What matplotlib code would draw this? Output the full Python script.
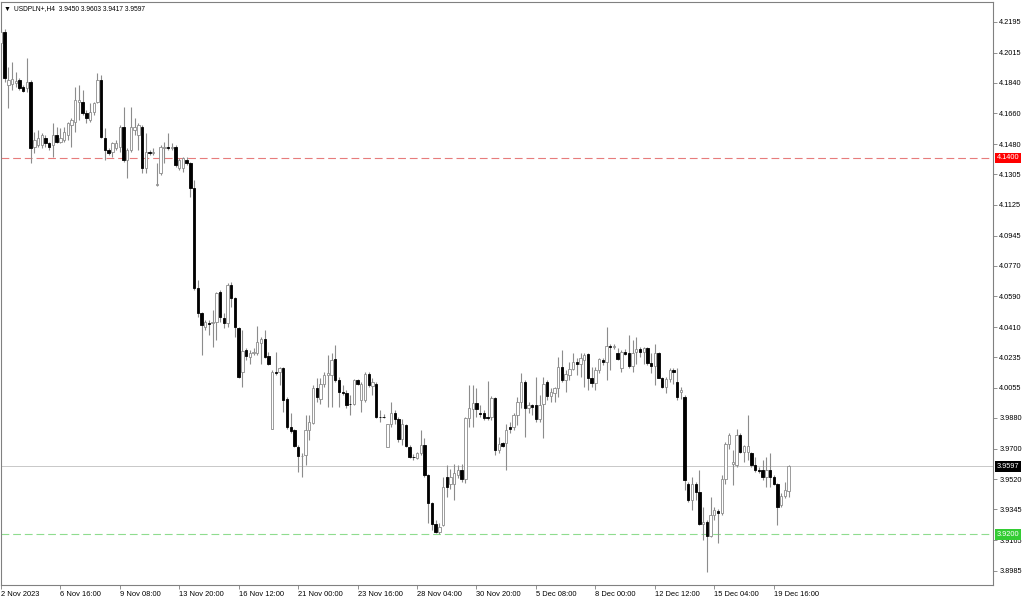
import matplotlib
matplotlib.use("Agg")
import matplotlib.pyplot as plt
from matplotlib.transforms import blended_transform_factory

plt.rcParams['font.family'] = ['Liberation Sans', 'DejaVu Sans']

# --- 1. H4 bars, USDPLN+ ---
opens = [
    4.2070, 4.2138, 4.1827, 4.1832, 4.1836, 4.1856, 4.1817, 4.1807, 4.1846, 4.1466,
    4.1475, 4.1475, 4.1515, 4.1485, 4.1475, 4.1534, 4.1495, 4.1505, 4.1534, 4.1592,
    4.1612, 4.1729, 4.1729, 4.1661, 4.1622, 4.1670, 4.1729, 4.1856, 4.1515, 4.1446,
    4.1436, 4.1456, 4.1466, 4.1582, 4.1388, 4.1446, 4.1563, 4.1534, 4.1582, 4.1339,
    4.1436, 4.1427, 4.1242, 4.1310, 4.1456, 4.1466, 4.1456, 4.1466, 4.1339, 4.1339,
    4.1388, 4.1368, 4.1222, 4.0637, 4.0491, 4.0413, 4.0437, 4.0432, 4.0442, 4.0618,
    4.0466, 4.0437, 4.0657, 4.0579, 4.0403, 4.0146, 4.0276, 4.0237, 4.0257, 4.0257,
    4.0319, 4.0339, 4.0241, 3.9818, 4.0149, 4.0149, 4.0169, 3.9988, 3.9829, 3.9810,
    3.9711, 3.9656, 3.9662, 3.9808, 3.9851, 4.0056, 3.9993, 4.0081, 4.0128, 4.0128,
    4.0225, 4.0099, 4.0029, 4.0023, 3.9964, 3.9960, 4.0099, 3.9984, 3.9984, 4.0134,
    4.0067, 4.0079, 3.9888, 3.9888, 3.9707, 3.9842, 3.9909, 3.9876, 3.9754, 3.9836,
    3.9711, 3.9652, 3.9643, 3.9672, 3.9721, 3.9545, 3.9383, 3.9262, 3.9213, 3.9252,
    3.9535, 3.9496, 3.9496, 3.9545, 3.9574, 3.9525, 3.9882, 3.9931, 3.9968, 3.9907,
    3.9907, 3.9888, 3.9886, 3.9995, 3.9691, 3.9734, 3.9734, 3.9824, 3.9824, 3.9896,
    3.9974, 4.0091, 3.9935, 3.9954, 3.9954, 3.9871, 3.9964, 4.0091, 4.0007, 4.0026,
    4.0052, 4.0179, 4.0101, 4.0132, 4.0165, 4.0204, 4.0194, 4.0220, 4.0252, 4.0111,
    4.0085, 4.0159, 4.0216, 4.0204, 4.0300, 4.0296, 4.0257, 4.0169, 4.0266, 4.0257,
    4.0183, 4.0266, 4.0280, 4.0266, 4.0286, 4.0202, 4.0183, 4.0261, 4.0116, 4.0062,
    4.0110, 4.0159, 4.0091, 4.0032, 4.0003, 3.9496, 3.9399, 3.9496, 3.9447, 3.9258,
    3.9272, 3.9188, 3.9311, 3.9336, 3.9326, 3.9520, 3.9726, 3.9613, 3.9604, 3.9779,
    3.9681, 3.9681, 3.9676, 3.9603, 3.9574, 3.9574, 3.9535, 3.9574, 3.9535, 3.9492,
    3.9370, 3.9423, 3.9450,
]
highs = [
    4.2152, 4.2152, 4.1934, 4.1963, 4.1904, 4.1866, 4.1827, 4.1983, 4.1856, 4.1553,
    4.1563, 4.1546, 4.1534, 4.1495, 4.1602, 4.1582, 4.1573, 4.1582, 4.1612, 4.1632,
    4.1817, 4.1827, 4.1797, 4.1680, 4.1719, 4.1729, 4.1895, 4.1885, 4.1573, 4.1456,
    4.1495, 4.1505, 4.1592, 4.1700, 4.1456, 4.1700, 4.1632, 4.1604, 4.1592, 4.1544,
    4.1446, 4.1456, 4.1370, 4.1475, 4.1495, 4.1544, 4.1485, 4.1475, 4.1397, 4.1407,
    4.1407, 4.1378, 4.1271, 4.0686, 4.0501, 4.0452, 4.0452, 4.0510, 4.0618, 4.0627,
    4.0491, 4.0666, 4.0676, 4.0588, 4.0413, 4.0393, 4.0286, 4.0276, 4.0288, 4.0417,
    4.0354, 4.0393, 4.0266, 4.0159, 4.0266, 4.0179, 4.0179, 4.0003, 3.9906, 3.9818,
    3.9720, 3.9672, 3.9896, 3.9896, 4.0075, 4.0111, 4.0111, 4.0149, 4.0247, 4.0257,
    4.0306, 4.0120, 4.0071, 4.0042, 4.0013, 4.0108, 4.0108, 4.0089, 4.0149, 4.0149,
    4.0111, 4.0091, 3.9925, 3.9902, 3.9847, 3.9974, 3.9925, 3.9886, 3.9871, 3.9847,
    3.9721, 3.9668, 3.9681, 3.9812, 3.9760, 3.9551, 3.9389, 3.9282, 3.9266, 3.9535,
    3.9603, 3.9584, 3.9613, 3.9603, 3.9613, 3.9886, 4.0071, 4.0071, 4.0052, 3.9955,
    3.9925, 4.0097, 4.0007, 4.0003, 3.9769, 3.9740, 3.9847, 3.9857, 3.9906, 4.0003,
    4.0140, 4.0101, 3.9974, 3.9964, 4.0120, 4.0013, 4.0120, 4.0101, 4.0052, 4.0062,
    4.0237, 4.0276, 4.0159, 4.0208, 4.0257, 4.0228, 4.0257, 4.0257, 4.0257, 4.0179,
    4.0179, 4.0228, 4.0228, 4.0409, 4.0315, 4.0311, 4.0286, 4.0276, 4.0280, 4.0364,
    4.0335, 4.0354, 4.0296, 4.0296, 4.0296, 4.0257, 4.0315, 4.0266, 4.0120, 4.0120,
    4.0169, 4.0169, 4.0169, 4.0062, 4.0013, 3.9506, 3.9535, 3.9506, 3.9574, 3.9360,
    3.9282, 3.9418, 3.9360, 3.9350, 3.9545, 3.9740, 3.9789, 3.9691, 3.9818, 3.9789,
    3.9721, 3.9896, 3.9681, 3.9652, 3.9594, 3.9633, 3.9652, 3.9672, 3.9545, 3.9500,
    3.9438, 3.9506, 3.9603,
]
lows = [
    4.2014, 4.1846, 4.1690, 4.1797, 4.1817, 4.1797, 4.1787, 4.1787, 4.1370, 4.1427,
    4.1466, 4.1456, 4.1466, 4.1446, 4.1407, 4.1485, 4.1485, 4.1495, 4.1505, 4.1466,
    4.1553, 4.1622, 4.1651, 4.1602, 4.1612, 4.1651, 4.1719, 4.1515, 4.1388, 4.1417,
    4.1407, 4.1446, 4.1436, 4.1378, 4.1281, 4.1436, 4.1534, 4.1446, 4.1310, 4.1310,
    4.1417, 4.1417, 4.1236, 4.1300, 4.1368, 4.1446, 4.1446, 4.1349, 4.1329, 4.1319,
    4.1358, 4.1171, 4.0627, 4.0471, 4.0247, 4.0393, 4.0364, 4.0296, 4.0335, 4.0442,
    4.0405, 4.0413, 4.0530, 4.0354, 4.0116, 4.0062, 4.0218, 4.0198, 4.0247, 4.0247,
    4.0198, 4.0229, 4.0189, 3.9818, 4.0130, 4.0071, 3.9915, 3.9818, 3.9789, 3.9711,
    3.9564, 3.9535, 3.9603, 3.9750, 3.9845, 3.9973, 3.9964, 4.0062, 3.9945, 3.9945,
    4.0089, 3.9945, 4.0013, 3.9935, 3.9896, 3.9955, 4.0070, 3.9915, 3.9974, 4.0061,
    4.0013, 3.9877, 3.9857, 3.9882, 3.9707, 3.9828, 3.9847, 3.9740, 3.9721, 3.9711,
    3.9643, 3.9633, 3.9637, 3.9662, 3.9535, 3.9266, 3.9223, 3.9207, 3.9204, 3.9247,
    3.9418, 3.9467, 3.9399, 3.9526, 3.9506, 3.9500, 3.9828, 3.9828, 3.9886, 3.9886,
    3.9867, 3.9867, 3.9867, 3.9662, 3.9672, 3.9711, 3.9574, 3.9789, 3.9808, 3.9837,
    3.9935, 3.9769, 3.9906, 3.9896, 3.9857, 3.9857, 3.9765, 3.9984, 3.9974, 3.9974,
    4.0003, 4.0091, 4.0032, 4.0101, 4.0159, 4.0130, 4.0120, 4.0062, 4.0042, 4.0062,
    4.0042, 4.0140, 4.0189, 4.0101, 4.0159, 4.0280, 4.0218, 4.0149, 4.0247, 4.0169,
    4.0149, 4.0198, 4.0237, 4.0198, 4.0189, 4.0140, 4.0071, 4.0111, 4.0052, 4.0023,
    4.0091, 4.0081, 3.9984, 3.9993, 3.9457, 3.9389, 3.9340, 3.9399, 3.9253, 3.9165,
    3.8979, 3.9184, 3.9282, 3.9146, 3.9311, 3.9496, 3.9701, 3.9486, 3.9594, 3.9672,
    3.9623, 3.9633, 3.9594, 3.9564, 3.9559, 3.9516, 3.9477, 3.9477, 3.9486, 3.9253,
    3.9360, 3.9409, 3.9417,
]
closes = [
    4.2138, 4.1866, 4.1856, 4.1861, 4.1851, 4.1807, 4.1790, 4.1846, 4.1456, 4.1505,
    4.1515, 4.1534, 4.1485, 4.1466, 4.1534, 4.1495, 4.1515, 4.1553, 4.1602, 4.1622,
    4.1739, 4.1739, 4.1661, 4.1632, 4.1670, 4.1719, 4.1856, 4.1524, 4.1446, 4.1427,
    4.1489, 4.1489, 4.1582, 4.1388, 4.1446, 4.1582, 4.1582, 4.1592, 4.1339, 4.1436,
    4.1427, 4.1436, 4.1246, 4.1466, 4.1466, 4.1456, 4.1466, 4.1358, 4.1388, 4.1397,
    4.1368, 4.1222, 4.0637, 4.0491, 4.0422, 4.0442, 4.0430, 4.0442, 4.0613, 4.0472,
    4.0437, 4.0657, 4.0579, 4.0413, 4.0120, 4.0272, 4.0241, 4.0257, 4.0266, 4.0325,
    4.0339, 4.0237, 4.0198, 4.0149, 4.0140, 4.0169, 3.9984, 3.9829, 3.9806, 3.9718,
    3.9656, 3.9659, 3.9808, 3.9857, 4.0056, 4.0003, 4.0081, 4.0128, 4.0140, 4.0216,
    4.0099, 4.0032, 4.0023, 3.9955, 3.9960, 4.0099, 4.0079, 4.0079, 4.0134, 4.0071,
    4.0091, 3.9888, 3.9884, 3.9884, 3.9842, 3.9909, 3.9876, 3.9754, 3.9842, 3.9713,
    3.9652, 3.9649, 3.9672, 3.9721, 3.9545, 3.9383, 3.9262, 3.9213, 3.9242, 3.9477,
    3.9477, 3.9535, 3.9557, 3.9574, 3.9525, 3.9882, 3.9935, 3.9968, 3.9931, 3.9903,
    3.9878, 3.9882, 3.9995, 3.9691, 3.9726, 3.9714, 3.9812, 3.9818, 3.9896, 3.9974,
    4.0091, 3.9935, 3.9954, 3.9945, 3.9871, 3.9954, 4.0081, 4.0007, 4.0032, 4.0052,
    4.0179, 4.0101, 4.0136, 4.0165, 4.0204, 4.0194, 4.0228, 4.0245, 4.0111, 4.0085,
    4.0159, 4.0222, 4.0204, 4.0300, 4.0292, 4.0300, 4.0222, 4.0266, 4.0254, 4.0183,
    4.0261, 4.0280, 4.0266, 4.0286, 4.0202, 4.0183, 4.0261, 4.0116, 4.0062, 4.0110,
    4.0159, 4.0150, 4.0003, 4.0042, 3.9516, 3.9399, 3.9496, 3.9447, 3.9258, 3.9272,
    3.9188, 3.9311, 3.9340, 3.9326, 3.9520, 3.9726, 3.9782, 3.9623, 3.9779, 3.9681,
    3.9714, 3.9714, 3.9603, 3.9574, 3.9570, 3.9535, 3.9574, 3.9535, 3.9492, 3.9360,
    3.9423, 3.9457, 3.9597,
]

# time axis: one label every 16 bars
date_labels = ['2 Nov 2023', '6 Nov 16:00', '9 Nov 08:00', '13 Nov 20:00', '16 Nov 12:00',
               '21 Nov 00:00', '23 Nov 16:00', '28 Nov 04:00', '30 Nov 20:00', '5 Dec 08:00',
               '8 Dec 00:00', '12 Dec 12:00', '15 Dec 04:00', '19 Dec 16:00']
bars_per_label = 16

# price scale labels
price_ticks = [4.2195, 4.2015, 4.1840, 4.1660, 4.1480, 4.1305, 4.1125, 4.0945, 4.0770, 4.0590,
               4.0410, 4.0235, 4.0055, 3.9880, 3.9700, 3.9520, 3.9345, 3.9165, 3.8985]

# horizontal levels
level_high = 4.1400
level_low = 3.9200
bid_price = 3.9597

symbol_text = 'USDPLN+,H4  3.9450 3.9603 3.9417 3.9597'

# --- 2. figure ---
fig = plt.figure(figsize=(10.24, 5.99), dpi=100)
ax = fig.add_axes([0.0005, 0.0234, 0.9692, 0.9733])

wick_col = '#8c8c8c'
for i, (o, h, l, c) in enumerate(zip(opens, highs, lows, closes)):
    ax.vlines(i, l, h, color=wick_col, lw=0.8, zorder=2)
    body = max(abs(c - o), 0.0004)
    bottom = min(o, c)
    if c >= o:
        ax.bar(i, body, bottom=bottom, width=0.64, facecolor='white',
               edgecolor=wick_col, lw=0.6, zorder=3)
    else:
        ax.bar(i, body, bottom=bottom, width=0.64, facecolor='black',
               edgecolor='black', lw=0.6, zorder=3)

# levels
ax.axhline(level_high, color='#e77c7c', lw=0.8, dashes=(7, 3.5), zorder=1)
ax.axhline(level_low, color='#8fdc8f', lw=0.8, dashes=(7, 3.5), zorder=1)
ax.axhline(bid_price, color='#c8c8c8', lw=0.7, zorder=1)

ax.set_xlim(-0.1, 267.0)
ax.set_ylim(3.8903, 4.2312)

# axes look
for s in ax.spines.values():
    s.set_color('#808080')
    s.set_linewidth(0.8)

ax.yaxis.tick_right()
ax.set_yticks(price_ticks)
ax.set_yticklabels([f'{p:.4f}' for p in price_ticks])
ax.tick_params(axis='y', length=3, width=0.6, color='#808080', labelsize=5.3, pad=1.5)

xt = list(range(0, len(date_labels) * bars_per_label, bars_per_label))
ax.set_xticks(xt)
ax.set_xticklabels(date_labels, ha='left')
ax.tick_params(axis='x', length=3, width=0.6, color='#808080', labelsize=5.4, pad=1.5)

# price boxes on the right scale
tr = blended_transform_factory(ax.transAxes, ax.transData)
for val, bg in [(level_high, '#ff0000'), (bid_price, '#000000'), (level_low, '#33cc33')]:
    ax.text(1.0035, val, f'{val:.4f}', transform=tr, ha='left', va='center',
            fontsize=5.3, color='white', zorder=10, clip_on=False,
            bbox=dict(boxstyle='square,pad=0.25', fc=bg, ec='none'))

# symbol header
fig.text(4 / 1024, 1 - 9 / 599, '\u25bc', fontsize=5, va='center', ha='left')
fig.text(14 / 1024, 1 - 9 / 599, symbol_text, fontsize=4.8, va='center', ha='left')

fig.savefig('out.png', dpi=100, facecolor='white')
